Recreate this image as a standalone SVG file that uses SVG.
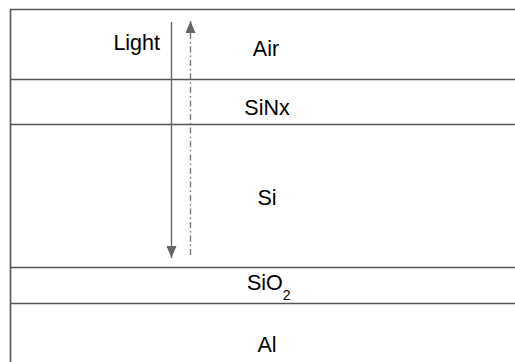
<svg xmlns="http://www.w3.org/2000/svg" width="515" height="362" viewBox="0 0 515 362">
  <style>
    .layer-line { stroke: #555; stroke-width: 1.6; fill: none; }
    .label { font-family: "Liberation Sans", Arial, sans-serif; font-size: 21.5px; fill: #000; }
    .mid { text-anchor: middle; }
    .ray { stroke: #666; stroke-width: 1.4; fill: none; }
    .ray-dash { stroke: #777; stroke-width: 1.4; fill: none; stroke-dasharray: 6 3 1.5 3; }
  </style>
  <defs>
    <marker id="head" markerWidth="12" markerHeight="10" refX="12" refY="5" orient="auto" markerUnits="userSpaceOnUse" viewBox="0 0 12 10">
      <path d="M0,0 L12,5 L0,10 Z" fill="#666"/>
    </marker>
  </defs>
  <rect width="515" height="362" fill="#fff"/>

  <!-- layer stack outline: left edge and top edge -->
  <g id="stack">
    <line class="layer-line" x1="10.5" y1="9.5" x2="10.5" y2="362"/>
    <line class="layer-line" x1="10" y1="9.5" x2="515" y2="9.5"/>
  </g>

  <g id="air">
    <text class="label mid" x="266" y="56">Air</text>
  </g>
  <g id="sinx">
    <line class="layer-line" x1="10" y1="79.5" x2="515" y2="79.5"/>
    <text class="label mid" x="267" y="115">SiNx</text>
  </g>
  <g id="si">
    <line class="layer-line" x1="10" y1="124.5" x2="515" y2="124.5"/>
    <text class="label mid" x="267" y="205">Si</text>
  </g>
  <g id="sio2">
    <line class="layer-line" x1="10" y1="267.5" x2="515" y2="267.5"/>
    <text class="label" x="247" y="290">SiO<tspan font-size="14" dy="10">2</tspan></text>
  </g>
  <g id="al">
    <line class="layer-line" x1="10" y1="303.5" x2="515" y2="303.5"/>
    <text class="label mid" x="267" y="352">Al</text>
  </g>

  <g id="light-label">
    <text class="label" x="160" y="50" text-anchor="end">Light</text>
  </g>

  <!-- incident and reflected rays -->
  <g id="connectors">
    <line class="ray" x1="171.5" y1="22" x2="171.5" y2="258" marker-end="url(#head)"/>
    <line class="ray-dash" x1="190.5" y1="255" x2="190.5" y2="21" marker-end="url(#head)"/>
  </g>
</svg>
